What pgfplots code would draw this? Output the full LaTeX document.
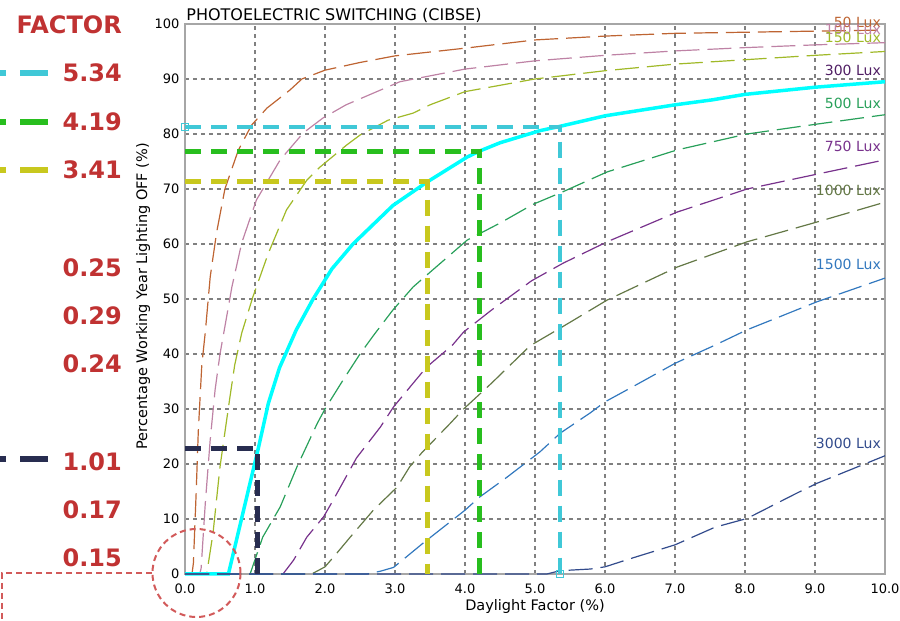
\documentclass[border=0pt]{standalone}
\usepackage{pgfplots}
\pgfplotsset{compat=1.18}
\usepackage{fontspec}
\setmainfont{DejaVu Sans}

\definecolor{c50}{RGB}{190,100,50}
\definecolor{c100}{RGB}{190,130,165}
\definecolor{c150}{RGB}{160,185,40}
\definecolor{c300}{RGB}{0,255,255}
\definecolor{c500}{RGB}{40,160,90}
\definecolor{c750}{RGB}{120,50,140}
\definecolor{c1000}{RGB}{100,120,70}
\definecolor{c1500}{RGB}{50,120,190}
\definecolor{c3000}{RGB}{50,75,140}
\definecolor{t300}{RGB}{80,30,100}
\definecolor{acyan}{RGB}{64,200,215}
\definecolor{agreen}{RGB}{40,190,30}
\definecolor{ayellow}{RGB}{200,200,30}
\definecolor{anavy}{RGB}{40,45,80}
\definecolor{fred}{RGB}{192,50,50}
\definecolor{cred}{RGB}{210,90,90}

\begin{document}
\begin{tikzpicture}
\begin{axis}[
  width=700pt, height=550pt, scale only axis,
  xmin=0, xmax=10, ymin=0, ymax=100,
  xtick={0,1,...,10}, ytick={0,10,...,100},
  clip=false,
  axis line style={draw=gray!70, line width=1.5pt},
  major tick length=0pt,
  grid=major,
  major grid style={draw=gray, dash pattern=on 4pt off 4pt, line width=1.3pt},
  ticklabel style={font=\fontsize{13}{15}\selectfont},
  /pgf/number format/assume math mode=true,
  xticklabel style={yshift=-6pt, /pgf/number format/fixed, /pgf/number format/fixed zerofill, /pgf/number format/precision=1},
  yticklabel style={xshift=-2pt},
  every axis plot/.append style={mark=none},
]
% 50 Lux
\addplot[c50, line width=1.2pt, dash pattern=on 24pt off 8pt] coordinates {
(0,0)(0.1,0)(0.12,2)(0.16,15)(0.19,26)(0.24,38)(0.29,44)(0.36,54)(0.45,62)(0.57,70)
(0.76,77)(0.95,81.6)(1.17,84.7)(1.5,88)(1.67,90)(2,91.6)(2.5,93)(3,94.2)(4,95.6)
(5,97.1)(6,97.8)(7,98.3)(8,98.5)(9,98.7)(10,98.9)};
% 100 Lux
\addplot[c100, line width=1.2pt, dash pattern=on 24pt off 8pt] coordinates {
(0,0)(0.21,0)(0.23,1)(0.29,12.9)(0.36,24.4)(0.43,33.5)(0.5,40)(0.57,45)(0.67,52.2)
(0.81,60.2)(1.02,68)(1.36,75.3)(1.69,80.2)(1.97,82.9)(2.3,85.3)(3.07,89.5)(4,91.8)
(5,93.3)(6,94.3)(7,95.1)(8,95.7)(9,96.2)(10,96.6)};
% 150 Lux
\addplot[c150, line width=1.2pt, dash pattern=on 24pt off 8pt] coordinates {
(0,0)(0.31,0)(0.4,7.4)(0.5,19.5)(0.64,32)(0.71,38)(0.81,43.8)(0.97,50.4)(1.19,58.3)
(1.45,66.2)(1.74,71.6)(1.93,74)(2.31,78)(2.5,79.8)(2.9,82.5)(3.26,83.8)(3.5,85.3)
(4,87.7)(5,90)(6,91.5)(7,92.7)(8,93.5)(9,94.3)(10,95)};
% 300 Lux
\addplot[c300, line width=3.5pt] coordinates {
(0,0)(0.62,0)(1.05,23)(1.19,31)(1.35,37.5)(1.59,44.4)(1.83,50)(2.1,55.5)(2.4,60)
(2.97,67)(3.45,71.2)(4.03,75.8)(4.21,76.9)(4.5,78.4)(5.07,80.6)(5.36,81.4)(6,83.3)
(7,85.3)(7.53,86.2)(8,87.2)(9,88.5)(10,89.5)};
% 500 Lux
\addplot[c500, line width=1.2pt, dash pattern=on 24pt off 8pt] coordinates {
(0,0)(0.93,0)(1.11,6.7)(1.36,12.2)(1.6,19.5)(1.89,27.4)(2,30)(2.26,35.3)(2.5,40)
(2.7,43.5)(2.97,48)(3.26,52.2)(3.54,55.3)(4.03,60.7)(4.5,63.8)(4.97,67.2)(5.4,69.5)
(6.03,73.1)(7.03,77.1)(8.03,80)(9.03,81.8)(10,83.5)};
% 750 Lux
\addplot[c750, line width=1.2pt, dash pattern=on 24pt off 8pt] coordinates {
(0,0)(1.4,0)(1.55,2.5)(1.74,6.7)(1.98,10.4)(2.12,13.5)(2.45,21.1)(2.79,26.7)(2.98,30.4)
(3.26,34.7)(3.45,37.6)(3.82,41.6)(3.98,44)(4.38,48)(4.95,53.3)(5.4,56.5)(6.03,60.4)
(7.03,65.8)(8.03,70)(9.03,72.7)(10,75.3)};
% 1000 Lux
\addplot[c1000, line width=1.2pt, dash pattern=on 24pt off 8pt] coordinates {
(0,0)(1.81,0)(2,1.3)(2.17,3.8)(2.36,6.7)(2.69,11.6)(3.03,15.8)(3.21,19.5)(3.38,22)
(3.79,27.4)(3.98,30)(4.38,34.7)(4.93,41.5)(5.4,45)(6.03,49.8)(7.03,55.8)(8.03,60.4)
(9.03,64)(10,67.6)};
% 1500 Lux
\addplot[c1500, line width=1.2pt, dash pattern=on 24pt off 8pt] coordinates {
(0,0)(2.6,0)(2.79,0.5)(2.98,1.2)(3.4,5.6)(4,11.6)(4.21,14)(4.6,17.6)(5.07,22.2)
(5.36,25.6)(5.79,29.3)(6,31.3)(6.39,34)(7,38.3)(7.57,41.6)(8.03,44.4)(9.03,49.5)(10,53.8)};
% 3000 Lux
\addplot[c3000, line width=1.2pt, dash pattern=on 24pt off 8pt] coordinates {
(0,0)(5.17,0)(5.36,0.6)(5.79,0.9)(6,1.3)(6.39,2.9)(7,5.3)(7.57,8.5)(8.03,10.1)
(8.74,14.7)(9.03,16.5)(10,21.5)};

% curve labels
\begin{scope}[font=\fontsize{14}{16}\selectfont]
\node[anchor=east, text=c50] at (axis cs:9.99,100.3) {50 Lux};
\node[anchor=east, text=c100] at (axis cs:9.99,99.0) {100 Lux};
\node[anchor=east, text=c150] at (axis cs:9.99,97.5) {150 Lux};
\node[anchor=east, text=t300] at (axis cs:9.99,91.6) {300 Lux};
\node[anchor=east, text=c500] at (axis cs:9.99,85.6) {500 Lux};
\node[anchor=east, text=c750] at (axis cs:9.99,77.7) {750 Lux};
\node[anchor=east, text=c1000] at (axis cs:9.99,69.8) {1000 Lux};
\node[anchor=east, text=c1500] at (axis cs:9.99,56.2) {1500 Lux};
\node[anchor=east, text=c3000] at (axis cs:9.99,23.8) {3000 Lux};
\end{scope}

% reading lines
\draw[ayellow, line width=5pt, dash pattern=on 16pt off 10pt] (axis cs:0,71.3) -- (axis cs:3.46,71.3) -- (axis cs:3.46,0);
\draw[agreen, line width=5pt, dash pattern=on 16pt off 10pt] (axis cs:0,76.9) -- (axis cs:4.21,76.9) -- (axis cs:4.21,0);
\draw[acyan, line width=4pt, dash pattern=on 16pt off 10pt] (axis cs:0,81.3) -- (axis cs:5.36,81.3) -- (axis cs:5.36,0);
\draw[anavy, line width=5pt, dash pattern=on 16pt off 10pt] (axis cs:0,22.8) -- (axis cs:1.03,22.8) -- (axis cs:1.03,0);
\addplot[only marks, mark=square, mark size=3.5pt, acyan, line width=1pt] coordinates {(0,81.3)(5.36,0)};

% red circle and leader
\draw[cred, line width=2pt, dash pattern=on 6pt off 4pt] (axis cs:0.164,0.18) circle[radius=44pt];
\draw[cred, line width=2pt, dash pattern=on 6pt off 4pt] (axis cs:-0.471,0.18) -- (axis cs:-2.614,0.18) -- (axis cs:-2.614,-9);

% titles
\node[anchor=base west, font=\fontsize{16}{18}\selectfont] at (axis cs:-0.03,100.6) {PHOTOELECTRIC SWITCHING (CIBSE)};
\node[rotate=90, font=\fontsize{14.5}{16}\selectfont] at (axis cs:-0.6,50.5) {Percentage Working Year Lighting OFF (\%)};
\node[font=\fontsize{14.5}{16}\selectfont] at (axis cs:5.0,-6) {Daylight Factor (\%)};

% factor column
\begin{scope}[font=\fontsize{24}{28}\bfseries\selectfont, text=fred, inner sep=0pt]
\node[anchor=east] at (axis cs:-0.9,99.8) {FACTOR};
\node[anchor=east] at (axis cs:-0.9,91.1) {5.34};
\node[anchor=east] at (axis cs:-0.9,82.2) {4.19};
\node[anchor=east] at (axis cs:-0.9,73.45) {3.41};
\node[anchor=east] at (axis cs:-0.9,55.6) {0.25};
\node[anchor=east] at (axis cs:-0.9,46.9) {0.29};
\node[anchor=east] at (axis cs:-0.9,38.2) {0.24};
\node[anchor=east] at (axis cs:-0.9,20.4) {1.01};
\node[anchor=east] at (axis cs:-0.9,11.6) {0.17};
\node[anchor=east] at (axis cs:-0.9,2.9) {0.15};
\end{scope}
\draw[acyan, line width=6pt, dash pattern=on 28pt off 14pt] (axis cs:-1.957,91.1) -- (axis cs:-2.8,91.1);
\draw[agreen, line width=6pt, dash pattern=on 28pt off 14pt] (axis cs:-1.957,82.2) -- (axis cs:-2.8,82.2);
\draw[ayellow, line width=6pt, dash pattern=on 28pt off 14pt] (axis cs:-1.957,73.4) -- (axis cs:-2.8,73.4);
\draw[anavy, line width=6pt, dash pattern=on 28pt off 14pt] (axis cs:-1.957,20.9) -- (axis cs:-2.8,20.9);

\coordinate (bbsw) at (axis cs:-2.643,-8.545);
\coordinate (bbne) at (axis cs:10.214,104.36);
\end{axis}
\pgfresetboundingbox
\path[use as bounding box] (bbsw) rectangle (bbne);
\end{tikzpicture}
\end{document}
